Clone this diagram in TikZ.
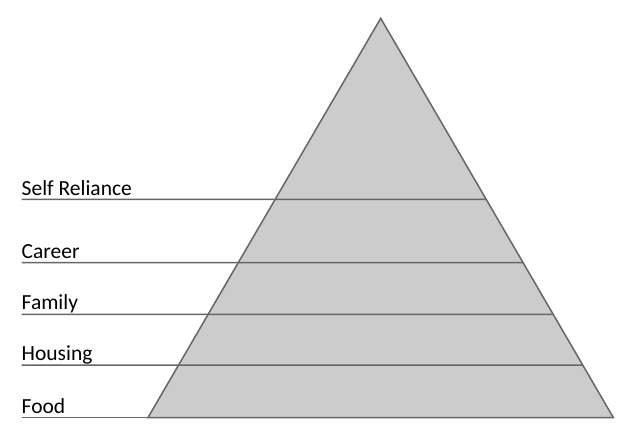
\documentclass[tikz,border=0pt]{standalone}
\usepackage{fontspec}
\setmainfont{Carlito}
\usetikzlibrary{calc}
\begin{document}
\begin{tikzpicture}[x=1pt,y=-1pt,
  edge/.style={draw=black!60, line width=1.5pt},
  lbl/.style={anchor=base west, inner sep=0pt, font=\fontsize{21.5}{24}\selectfont, text=black}]
\useasboundingbox (0,0) rectangle (632,437);
\coordinate (A) at (380.7,18.3);
\coordinate (L) at (148,417.5);
\coordinate (R) at (613.3,417.5);
\fill[black!20] (A) -- (L) -- (R) -- cycle;
\draw[edge, line join=miter] (A) -- (L) -- (R) -- cycle;
% levels
\foreach \n/\y in {1/199.3,2/262.7,3/314.3,4/365} {
  \coordinate (l\n) at (21.5,\y);
  \coordinate (r\n) at ($(A)!{(\y-18.3)/399.2}!(R)$);
  \draw[edge] (l\n) -- (r\n);
}
\coordinate (l5) at (21.5,417.5);
\draw[edge] (l5) -- (L);
\node[lbl] (t1) at (21.5,195.8) {Self Reliance};
\node[lbl] (t2) at (21.5,258.5) {Career};
\node[lbl] (t3) at (21.5,309.7) {Family};
\node[lbl] (t4) at (21.5,360.9) {Housing};
\node[lbl] (t5) at (21.5,413.5) {Food};
\end{tikzpicture}
\end{document}
